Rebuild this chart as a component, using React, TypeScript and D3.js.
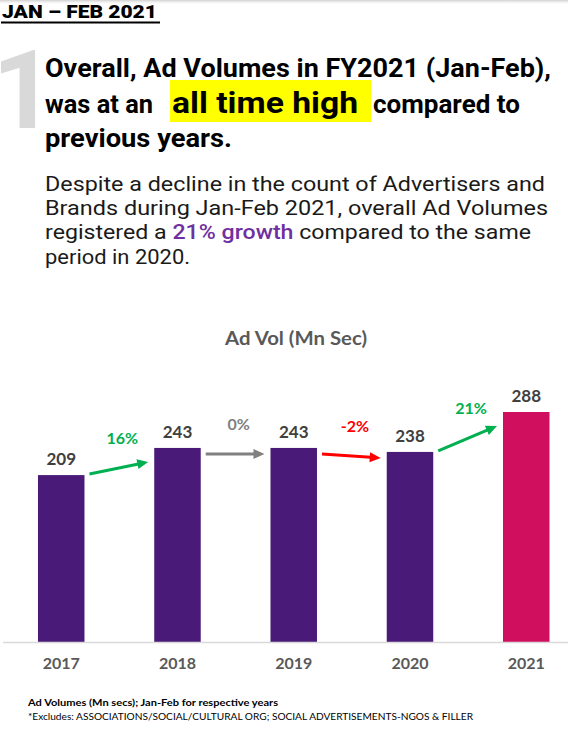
import { scaleBand, scaleLinear, max } from "d3";
import type { ReactElement } from "react";

const years = ["2017", "2018", "2019", "2020", "2021"];
const adVolumes = [209, 243, 243, 238, 288];
const growthPct = [16, 0, -2, 21];

const chartTitle = "Ad Vol (Mn Sec)";
const footnoteMain = "Ad Volumes (Mn secs); Jan-Feb for respective years";
const footnoteExcl = "*Excludes: ASSOCIATIONS/SOCIAL/CULTURAL ORG; SOCIAL ADVERTISEMENTS-NGOS & FILLER";

const WIDTH = 568;
const HEIGHT = 751;
const BASELINE = 642;
const TOP = 412;

const PURPLE = "#4a1a78";
const PINK = "#d0105e";
const GREEN = "#00b050";
const RED = "#ff0000";
const GREY = "#808080";

const headFont = "Roboto, 'DejaVu Sans', sans-serif";
const chartFont = "Lato, 'Open Sans', sans-serif";

const growthColor = (g: number): string => (g > 0 ? GREEN : g < 0 ? RED : GREY);

const Arrow = (props: { x0: number; y0: number; x1: number; y1: number; color: string }): ReactElement => {
  const { x0, y0, x1, y1, color } = props;
  const dx = x1 - x0;
  const dy = y1 - y0;
  const len = Math.hypot(dx, dy);
  const ux = dx / len;
  const uy = dy / len;
  const headLen = 11;
  const headHalf = 5;
  const bx = x1 - ux * headLen;
  const by = y1 - uy * headLen;
  const pts = [
    [x1, y1],
    [bx - uy * headHalf, by + ux * headHalf],
    [bx + uy * headHalf, by - ux * headHalf],
  ]
    .map((p) => p.join(","))
    .join(" ");
  return (
    <g>
      <line x1={x0} y1={y0} x2={bx + ux} y2={by + uy} stroke={color} strokeWidth={3} />
      <polygon points={pts} fill={color} />
    </g>
  );
};

export default function App(): ReactElement {
  const x = scaleBand<string>()
    .domain(years)
    .range([3, 568])
    .paddingInner(0.6)
    .paddingOuter(0.23)
    .align(0.654);

  const y = scaleLinear()
    .domain([0, max(adVolumes) ?? 0])
    .range([BASELINE, TOP]);

  const bw = x.bandwidth();

  return (
    <svg
      width={WIDTH}
      height={HEIGHT}
      viewBox={`0 0 ${WIDTH} ${HEIGHT}`}
      style={{ position: "absolute", left: 0, top: 0, background: "#fff" }}
    >
      <defs>
        <linearGradient id="topShade" x1="0" y1="0" x2="0" y2="1">
          <stop offset="0" stopColor="#d0d0d0" />
          <stop offset="1" stopColor="#ffffff" stopOpacity={0} />
        </linearGradient>
      </defs>
      <rect x={0} y={0} width={WIDTH} height={HEIGHT} fill="#fff" />
      <rect x={0} y={0} width={WIDTH} height={5} fill="url(#topShade)" />

      {/* header */}
      <text x={2} y={18} fontFamily={headFont} fontWeight={900} fontSize={19} fill="#000" textLength={155} lengthAdjust="spacingAndGlyphs">
        JAN – FEB 2021
      </text>
      <line x1={1} x2={160} y1={22.5} y2={22.5} stroke="#000" strokeWidth={1.8} />

      {/* big number */}
      <text x={-8} y={128} fontFamily={headFont} fontWeight={700} fontSize={110} fill="#d9d9d9">
        1
      </text>

      {/* headline */}
      <text x={45} y={77} fontFamily={headFont} fontWeight={700} fontSize={25} fill="#000" textLength={506} lengthAdjust="spacingAndGlyphs">
        Overall, Ad Volumes in FY2021 (Jan-Feb),
      </text>
      <text x={45} y={113} fontFamily={headFont} fontWeight={700} fontSize={25} fill="#000" textLength={108} lengthAdjust="spacingAndGlyphs">
        was at an
      </text>
      <rect x={170} y={80} width={201} height={42} fill="#ffff00" />
      <text x={172} y={113} fontFamily={headFont} fontWeight={700} fontSize={30} fill="#000" textLength={186} lengthAdjust="spacingAndGlyphs">
        all time high
      </text>
      <text x={373} y={113} fontFamily={headFont} fontWeight={700} fontSize={25} fill="#000" textLength={147} lengthAdjust="spacingAndGlyphs">
        compared to
      </text>
      <text x={45} y={147} fontFamily={headFont} fontWeight={700} fontSize={25} fill="#000" textLength={187} lengthAdjust="spacingAndGlyphs">
        previous years.
      </text>

      {/* paragraph */}
      <g fontFamily={headFont} fontSize={21} fill="#1a1a1a">
        <text x={45} y={191} textLength={500} lengthAdjust="spacingAndGlyphs">
          Despite a decline in the count of Advertisers and
        </text>
        <text x={45} y={215} textLength={503} lengthAdjust="spacingAndGlyphs">
          Brands during Jan-Feb 2021, overall Ad Volumes
        </text>
        <text x={45} y={239} textLength={486} lengthAdjust="spacingAndGlyphs">
          registered a <tspan fill="#7030a0" fontWeight={500}>21% growth</tspan> compared to the same
        </text>
        <text x={45} y={264} textLength={145} lengthAdjust="spacingAndGlyphs">
          period in 2020.
        </text>
      </g>

      {/* chart title */}
      <text x={296} y={345} textAnchor="middle" fontFamily={chartFont} fontWeight={700} fontSize={18.5} fill="#595959" textLength={142} lengthAdjust="spacingAndGlyphs">
        {chartTitle}
      </text>

      {/* bars */}
      {years.map((yr, i) => {
        const bx = x(yr) ?? 0;
        const top = y(adVolumes[i]);
        const isLast = i === years.length - 1;
        return (
          <g key={yr}>
            <rect x={bx} y={top} width={bw} height={BASELINE - top} fill={isLast ? PINK : PURPLE} />
            <text
              x={bx + bw / 2}
              y={top - 10}
              textAnchor="middle"
              fontFamily={chartFont}
              fontWeight={700}
              fontSize={17}
              fill="#404040"
            >
              {adVolumes[i]}
            </text>
            <text
              x={bx + bw / 2}
              y={669}
              textAnchor="middle"
              fontFamily={chartFont}
              fontWeight={700}
              fontSize={16}
              fill="#595959"
            >
              {yr}
            </text>
          </g>
        );
      })}

      {/* axis line */}
      <line x1={3} x2={568} y1={BASELINE + 0.5} y2={BASELINE + 0.5} stroke="#d9d9d9" strokeWidth={1.5} />

      {/* growth arrows */}
      {growthPct.map((g, i) => {
        const leftEdge = (x(years[i]) ?? 0) + bw;
        const rightEdge = x(years[i + 1]) ?? 0;
        const rising = g > 5;
        const x0 = leftEdge + 5;
        const x1 = rightEdge - 6;
        const y0 = y(adVolumes[i]) + (rising ? -1 : 6);
        const y1 = y(adVolumes[i + 1]) + (rising ? 14 : 6);
        const color = growthColor(g);
        return (
          <g key={`g-${i}`}>
            <Arrow x0={x0} y0={y0} x1={x1} y1={y1} color={color} />
            <text
              x={(leftEdge + rightEdge) / 2 + 3}
              y={(y0 + y1) / 2 - 24}
              textAnchor="middle"
              fontFamily={chartFont}
              fontWeight={700}
              fontSize={16}
              fill={color}
            >
              {`${g}%`}
            </text>
          </g>
        );
      })}

      {/* footnotes */}
      <text x={28} y={706} fontFamily={chartFont} fontWeight={700} fontSize={10} fill="#000" textLength={250} lengthAdjust="spacingAndGlyphs">
        {footnoteMain}
      </text>
      <text x={28} y={720} fontFamily={chartFont} fontSize={9.5} fill="#000" textLength={445} lengthAdjust="spacingAndGlyphs">
        {footnoteExcl}
      </text>
    </svg>
  );
}
